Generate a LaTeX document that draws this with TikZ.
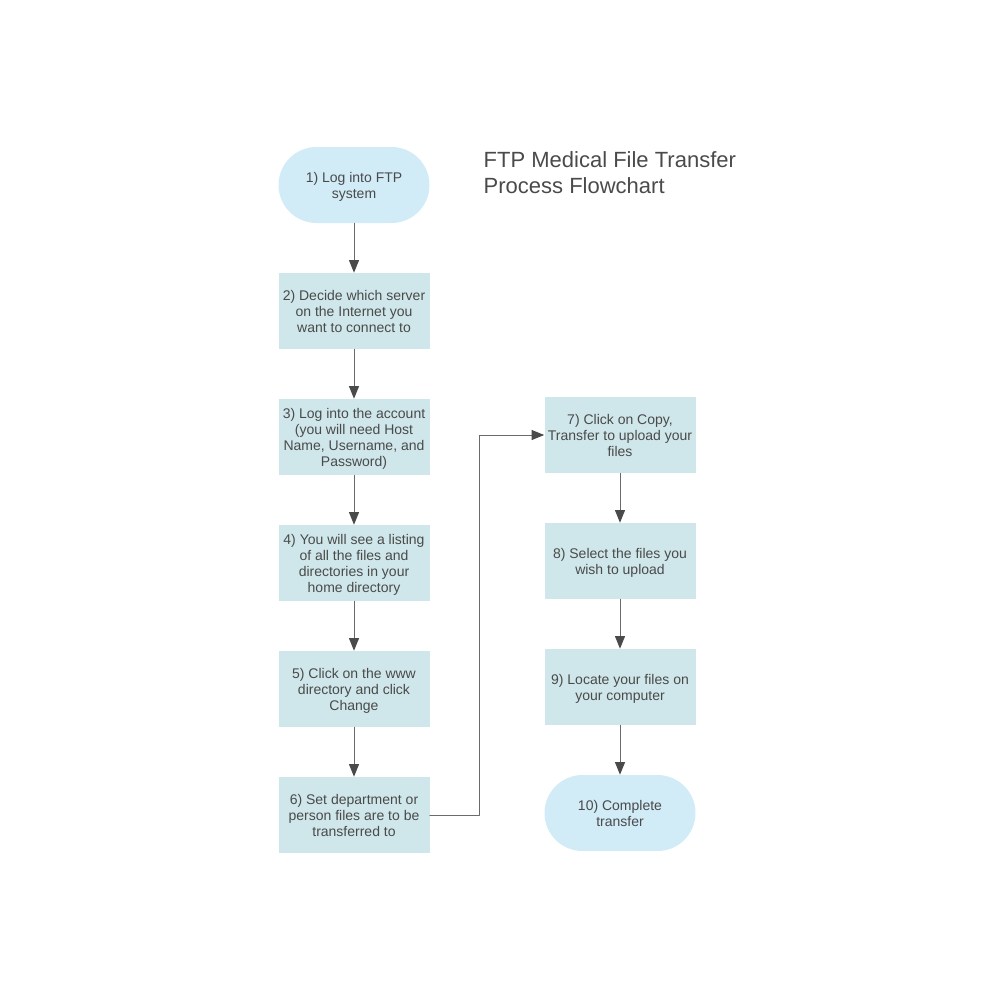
\documentclass[tikz,border=0pt]{standalone}
\usepackage{fontspec}
\setmainfont{Liberation Sans}
\usetikzlibrary{arrows.meta}
\definecolor{stadfill}{HTML}{D1EBF7}
\definecolor{boxfill}{HTML}{CFE7EA}
\definecolor{txtgray}{HTML}{4A4A4A}
\definecolor{linegray}{HTML}{6A6A6A}
\definecolor{tipgray}{HTML}{4A4A4A}
\begin{document}
\begin{tikzpicture}[line cap=round,line join=round,x=0.75pt,y=-0.75pt,
	stepbox/.style={fill=boxfill,text=txtgray,minimum width=113.25pt,minimum height=57pt,align=center,inner sep=0pt,text depth=0pt,font=\fontsize{10.5pt}{12pt}\selectfont},
	termbox/.style={stepbox,fill=stadfill,rounded corners=28.5pt},
	flow/.style={draw=linegray,line width=0.75pt,-{Triangle[length=9.5pt,width=7.5pt,color=tipgray,fill=tipgray]}}]
			\useasboundingbox (0,0) rectangle (1000,1000);
			\node [anchor=west,text=txtgray,align=left,font=\fontsize{16.5pt}{19.5pt}\selectfont] (title) at (479,173) {FTP Medical File Transfer\\Process Flowchart};
			\node [termbox] (s1) at (354,185) {1) Log into FTP\\system};
			\node [stepbox] (s2) at (354,311) {2) Decide which server\\on the Internet you\\want to connect to};
			\node [stepbox] (s3) at (354,437) {3) Log into the account\\(you will need Host\\Name, Username, and\\Password)};
			\node [stepbox] (s4) at (354,563) {4) You will see a listing\\of all the files and\\directories in your\\home directory};
			\node [stepbox] (s5) at (354,689) {5) Click on the www\\directory and click\\Change};
			\node [stepbox] (s6) at (354,815) {6) Set department or\\person files are to be\\transferred to};
			\node [stepbox] (s7) at (620,435) {7) Click on Copy,\\Transfer to upload your\\files};
			\node [stepbox] (s8) at (620,561) {8) Select the files you\\wish to upload};
			\node [stepbox] (s9) at (620,687) {9) Locate your files on\\your computer};
			\node [termbox] (s10) at (620,813) {10) Complete\\transfer};
			\draw [flow] (s1) -- (s2);
			\draw [flow] (s2) -- (s3);
			\draw [flow] (s3) -- (s4);
			\draw [flow] (s4) -- (s5);
			\draw [flow] (s5) -- (s6);
			\draw [flow] (s6.east) -- ++(50,0) |- (s7.west);
			\draw [flow] (s7) -- (s8);
			\draw [flow] (s8) -- (s9);
			\draw [flow] (s9) -- (s10);
		\end{tikzpicture}
\end{document}
